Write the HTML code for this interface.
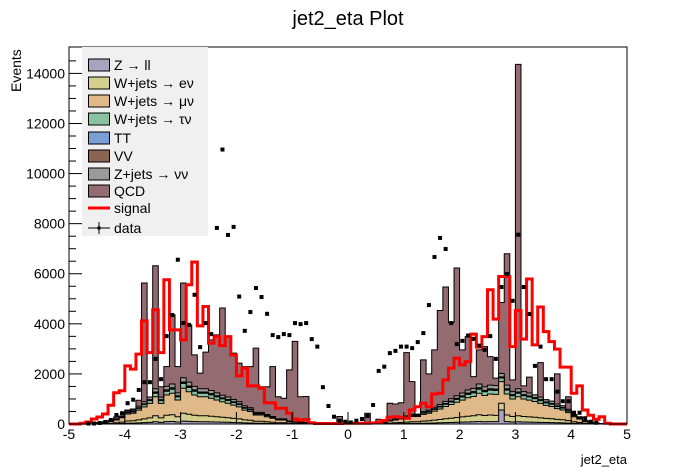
<!DOCTYPE html>
<html><head><meta charset="utf-8">
<style>
body{margin:0;background:#fff;}
svg{display:block;font-family:"Liberation Sans",sans-serif;}
</style></head>
<body>
<svg id="chart" width="696" height="472" viewBox="0 0 696 472" xmlns="http://www.w3.org/2000/svg">
<rect x="0" y="0" width="696" height="472" fill="#fff"/>
<text x="348" y="25" font-size="20" text-anchor="middle">jet2_eta Plot</text>
<g id="hists"></g>
<g id="axes"></g>
<text x="627" y="464" font-size="13" text-anchor="end">jet2_eta</text>
<text transform="translate(21,92) rotate(-90)" font-size="14" text-anchor="start">Events</text>
<g id="legend"></g>
</svg>
<script>
const binLow = -5, binWidth = 0.1;
const yTicks = [0,2000,4000,6000,8000,10000,12000,14000];
const xTicks = [-5,-4,-3,-2,-1,0,1,2,3,4,5];
const zll = [0,0,0,1,2,3,5,8,13,20, 30,35,45,55,65,90,65,95,100,80, 115,105,95,90,90,85,80,75,70,60, 55,45,40,30,30,25,20,15,15,10, 5,5,4,3,2,2,1,1,1,1, 1,1,1,1,2,2,5,10,13,16, 20,24,24,30,35,40,50,55,60,70, 75,80,90,100,90,95,95,560,95,80, 90,80,75,70,65,60,55,50,45,35, 25,16,8,5,3,1,0,0,0,0];
const wenu = [0,0,0,2,4,9,13,22,35,55, 90,95,120,150,180,240,180,255,270,210, 315,285,255,240,240,225,210,195,180,165, 150,120,110,80,80,65,50,35,35,20, 15,13,11,7,4,4,2,2,1,1, 1,1,2,2,4,7,13,26,35,44, 55,66,66,84,95,115,130,155,170,190, 210,230,240,270,250,265,250,270,265,220, 240,220,210,200,180,165,155,135,125,100, 65,44,22,13,7,2,0,0,0,0];
const wmunu = [0,0,0,7,14,28,42,70,112,175, 280,300,390,480,580,760,580,810,860,670, 1000,900,810,760,760,720,670,620,580,530, 480,390,350,250,250,200,160,110,110,60, 50,40,35,20,14,14,7,7,3,3, 3,3,7,7,14,21,42,84,112,140, 175,210,210,270,300,360,420,490,550,610, 670,740,770,860,800,840,840,860,840,700, 760,700,670,630,580,520,490,430,390,320, 200,140,70,40,20,7,0,0,0,0];
const wtaunu = [0,0,0,1,3,5,8,13,20,30, 50,55,70,90,110,140,110,150,160,125, 185,170,150,140,140,135,125,115,110,100, 90,75,65,45,45,40,30,20,20,12, 9,8,6,4,3,3,1,1,1,1, 1,1,1,1,3,4,8,16,20,26, 32,40,40,50,55,68,78,90,100,115, 125,135,145,160,150,155,155,145,155,130, 140,130,125,115,110,100,90,80,75,60, 38,26,13,8,4,1,0,0,0,0];
const tt = [0,0,0,0,0,1,1,2,3,4, 6,6,8,10,12,16,12,17,18,14, 21,19,17,16,16,15,14,13,12,11, 10,8,7,5,5,4,3,2,2,1, 1,1,1,0,0,0,0,0,0,0, 0,0,0,0,0,1,1,2,2,3, 4,4,4,5,6,8,9,10,11,13, 14,16,16,18,17,18,18,16,18,15, 16,15,14,13,12,11,10,9,8,7, 4,3,1,1,0,0,0,0,0,0];
const vv = [0,0,0,0,1,1,2,3,5,8, 12,13,17,21,25,33,25,35,37,29, 43,39,35,33,33,31,29,27,25,23, 21,17,15,11,11,9,7,5,5,3, 2,2,2,1,1,1,0,0,0,0, 0,0,0,0,1,1,2,4,5,6, 8,9,9,11,13,16,18,21,23,26, 29,32,33,37,35,36,36,33,36,30, 33,30,29,27,25,23,21,19,17,14, 9,6,3,2,1,0,0,0,0,0];
const znn = [0,0,0,1,2,5,7,12,18,28, 45,50,65,80,100,130,100,140,150,115, 170,155,140,130,130,125,115,105,100,90, 80,70,60,42,42,35,28,18,18,11, 8,7,6,4,2,2,1,1,1,1, 1,1,1,1,2,4,7,14,18,24, 30,36,36,45,50,62,72,84,95,105, 115,125,130,150,140,145,145,135,145,120, 130,120,115,110,100,90,85,75,68,55, 35,24,12,7,4,1,0,0,0,0];
const totalMC = [0,0,0,15,30,60,90,150,280,300, 560,600,950,5630,950,6320,1490,2290,4360,2290, 5630,3960,2760,2030,2870,3360,3560,4630,3490,2830, 2430,2290,2290,3030,1490,1490,2290,1090,1030,2160, 3300,1090,1100,80,30,30,15,15,300,10, 10,10,15,430,30,190,100,830,800,850, 2850,1690,360,2560,2000,2960,4530,5470,4050,6230, 2960,3490,1890,2960,3090,2690,1830,4850,6800,1760, 14360,1520,1870,1120,2450,760,830,2000,450,1090, 360,290,90,50,0,0,0,0,0,0];
const signal = [0,0,30,80,200,280,400,750,1250,1330, 2320,2190,2790,4120,2850,4560,2850,5760,3760,3760, 3360,5560,6470,3920,4690,3230,3490,3130,3490,2760, 1920,2230,1520,1520,1430,850,850,630,630,430, 200,150,180,50,20,20,20,20,20,30, 30,30,30,30,40,60,140,270,290,270, 230,560,690,830,690,1200,1230,1760,2230,2630, 2360,2490,3590,3070,3490,5360,4190,5890,5890,3090, 4530,3390,5790,3160,4670,3690,3290,2990,2270,2270, 1230,1520,560,350,190,290,30,0,0,0];
const data = [0,0,0,20,20,40,80,160,360,430, 830,970,1360,1670,1670,2600,1790,3510,4350,6560, 4030,3960,5160,3070,4030,3590,7830,10960,7550,7870, 5090,3720,4470,5430,5070,4400,3550,3470,3590,3550, 4030,3990,4030,3390,3090,1470,720,290,130,90, 60,130,200,320,760,2120,2290,2830,2920,3090, 3090,3030,3270,3630,4750,6670,7430,6990,4030,3190, 3320,3530,3400,3130,2960,3510,2600,5470,5990,4920, 7560,5470,4390,2320,3090,1790,1790,1290,910,910, 450,450,230,90,50,0,0,0,0,0];

const NS='http://www.w3.org/2000/svg';
const X0=69,X1=627,Y0=424,YTOP=47;
function xs(v){return X0+(v+5)*(X1-X0)/10;}
function ys(v){return Y0-v*(350.6/14000);}
function mk(tag,attrs,parent){const e=document.createElementNS(NS,tag);for(const k in attrs)e.setAttribute(k,attrs[k]);parent.appendChild(e);return e;}

const comps=[
 {name:'zll',arr:zll,color:'#a7a3c1',label:'Z \u2192 ll'},
 {name:'wenu',arr:wenu,color:'#d4cf8c',label:'W+jets \u2192 e\u03bd'},
 {name:'wmunu',arr:wmunu,color:'#dfb988',label:'W+jets \u2192 \u03bc\u03bd'},
 {name:'wtaunu',arr:wtaunu,color:'#88c2a1',label:'W+jets \u2192 \u03c4\u03bd'},
 {name:'tt',arr:tt,color:'#7b9ed6',label:'TT'},
 {name:'vv',arr:vv,color:'#8b6553',label:'VV'},
 {name:'znn',arr:znn,color:'#9a9a9a',label:'Z+jets \u2192 \u03bd\u03bd'},
];
const n=totalMC.length;
const cum=[];let run=new Array(n).fill(0);
comps.forEach(c=>{run=run.map((v,i)=>v+c.arr[i]);cum.push(run.slice());});
const qcdTop=totalMC.map((v,i)=>Math.max(v,run[i]));
const layers=cum.map((a,i)=>({top:a,color:comps[i].color,name:comps[i].name}));
layers.push({top:qcdTop,color:'#936b70',name:'qcd'});

const hg=document.getElementById('hists');
function stepPath(arr){
 let d='M'+xs(binLow)+','+ys(0);
 for(let i=0;i<arr.length;i++){const xa=xs(binLow+i*binWidth),xb=xs(binLow+(i+1)*binWidth);d+=' L'+xa.toFixed(2)+','+ys(arr[i]).toFixed(2)+' L'+xb.toFixed(2)+','+ys(arr[i]).toFixed(2);}
 d+=' L'+xs(binLow+arr.length*binWidth)+','+ys(0);
 return d;
}
for(let l=layers.length-1;l>=0;l--){
 const L=layers[l];
 const p=mk('path',{d:stepPath(L.top)+' Z',fill:L.color,stroke:'#000','stroke-width':'1'},hg);
 
 
}
const sp=mk('path',{d:stepPath(signal),fill:'none',stroke:'#ff0000','stroke-width':'3','stroke-linejoin':'miter'},hg);


for(let i=0;i<n;i++){
 if(data[i]<=0)continue;
 const cx=xs(binLow+(i+0.5)*binWidth),cy=ys(data[i]);
 const r=mk('rect',{x:(cx-2).toFixed(2),y:(cy-2).toFixed(2),width:4,height:4,fill:'#000'},hg);
 
 
}

const ag=document.getElementById('axes');
const fr=mk('rect',{x:X0,y:YTOP,width:X1-X0,height:Y0-YTOP,fill:'none',stroke:'#000','stroke-width':'1'},ag);


for(let v=0;v<=14500;v+=500){
 const major=(v%2000===0);
 const t=mk('line',{x1:X0,x2:X0+(major?13:7),y1:ys(v),y2:ys(v),stroke:'#000','stroke-width':'1'},ag);
 
 
}
yTicks.forEach(v=>{
 const t=mk('text',{x:65,y:ys(v)+5,'font-size':'14','text-anchor':'end'},ag);t.textContent=v;
 
 
});
xTicks.forEach(v=>{
 const t=mk('line',{x1:xs(v),x2:xs(v),y1:Y0,y2:Y0-12,stroke:'#000','stroke-width':'1'},ag);
 
 
 const l=mk('text',{x:xs(v),y:439,'font-size':'14','text-anchor':'middle'},ag);l.textContent=v;
 
 
});

const lg=document.getElementById('legend');
mk('rect',{x:82,y:47,width:126,height:189,fill:'#f0f0f0'},lg);
const entries=comps.map(c=>({label:c.label,color:c.color,type:'box',name:c.name}));
entries.push({label:'QCD',color:'#936b70',type:'box',name:'qcd'});
entries.push({label:'signal',type:'line',name:'signal'});
entries.push({label:'data',type:'marker',name:'data'});
const ly=[65,83,101,119,138,156,174,191,208,228];
entries.forEach((e,i)=>{
 const g=mk('g',{},lg);
 
 
 const y=ly[i];
 if(e.type==='box')mk('rect',{x:88.5,y:y-6,width:21,height:12,fill:e.color,stroke:'#000','stroke-width':'1'},g);
 else if(e.type==='line')mk('line',{x1:88,x2:110,y1:y,y2:y,stroke:'#ff0000','stroke-width':'3'},g);
 else{mk('line',{x1:88,x2:110,y1:y,y2:y,stroke:'#000','stroke-width':'1'},g);mk('line',{x1:99,x2:99,y1:y-6,y2:y+6,stroke:'#000','stroke-width':'1'},g);mk('rect',{x:97.5,y:y-1.5,width:3,height:3,fill:'#000'},g);}
 const t=mk('text',{x:114,y:y+5,'font-size':'14'},g);t.textContent=e.label;
});
</script>
</body></html>
